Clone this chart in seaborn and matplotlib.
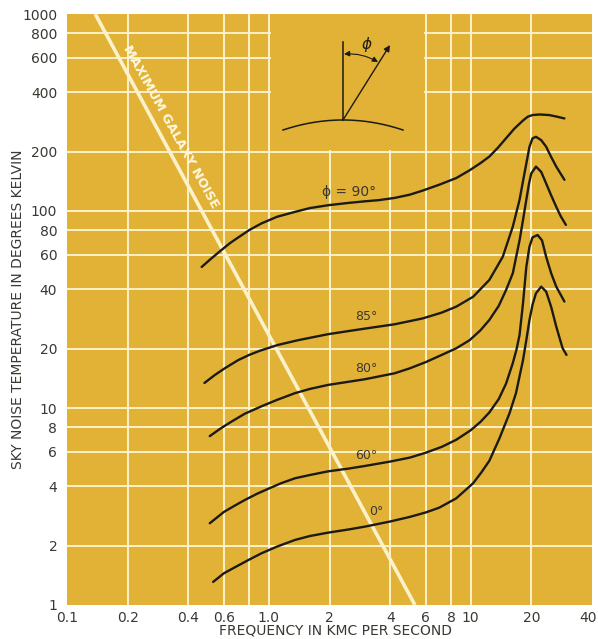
import numpy as np
import pandas as pd
import seaborn as sns
import matplotlib.pyplot as plt
from matplotlib.patches import Rectangle
from matplotlib.ticker import FixedLocator, NullFormatter
from matplotlib.transforms import ScaledTranslation

# sky noise temperature vs frequency, one curve per angle
freq_90 = [0.465, 0.52, 0.583, 0.64, 0.7, 0.8, 0.92, 1.1, 1.35, 1.6, 1.97, 2.5, 3.0, 3.5, 4.2, 5.0, 5.8, 7.0,
           8.5, 9.9, 11.2, 12.4, 13.7, 15.0, 16.5, 18.2, 19.2, 20.3, 22.0, 24.5, 26.5, 29.2]
temp_90 = [52, 57.5, 63.4, 68.5, 73, 80, 86.5, 93.5, 99, 103.5, 107, 110, 112, 113.5, 116.5, 121, 127, 136,
           147, 161, 175, 189, 210, 234, 262, 288, 301, 307, 309, 307, 302, 295]

freq_85 = [0.48, 0.54, 0.605, 0.705, 0.8, 0.9, 1.11, 1.4, 1.97, 2.5, 3.0, 4.2, 5.8, 7.2, 8.5, 10.3, 12.4,
           14.45, 16.2, 17.5, 18.5, 19.6, 20.3, 21.1, 22.4, 23.7, 25.1, 26.6, 29.2]
temp_85 = [13.4, 14.7, 15.9, 17.5, 18.6, 19.5, 20.9, 22.1, 23.7, 24.6, 25.3, 26.6, 28.5, 30.5, 32.7, 36.7, 44.7,
           58.6, 83.3, 114, 155, 212, 234, 238, 229, 212, 188, 168, 144]

freq_80 = [0.51, 0.58, 0.65, 0.76, 0.92, 1.1, 1.35, 1.6, 1.97, 2.5, 3.0, 3.5, 4.2, 5.0, 6.0, 7.2, 8.5, 9.9, 11.2,
           12.4, 13.8, 15.0, 16.2, 17.5, 18.2, 18.9, 19.5, 20.0, 21.1, 22.4, 23.7, 25.1, 26.6, 28.0, 29.7]
temp_80 = [7.2, 7.9, 8.5, 9.35, 10.2, 11.0, 11.9, 12.5, 13.1, 13.6, 14.0, 14.45, 15.0, 15.9, 17.1, 18.6, 20.1, 22.1, 24.8,
           28, 33, 39.7, 48.3, 71, 90, 114, 138, 155, 168, 158, 138, 120, 105, 94, 85]

freq_60 = [0.51, 0.6, 0.68, 0.76, 0.88, 1.0, 1.15, 1.35, 1.6, 1.97, 2.5, 3.0, 3.97, 5.0, 6.0, 7.2, 8.5, 10.0,
           11.2, 12.4, 13.8, 15.0, 16.2, 16.9, 17.5, 18.2, 18.9, 19.6, 20.3, 21.5, 22.6, 23.7, 25.1, 26.6, 29.2]
temp_60 = [2.6, 2.97, 3.2, 3.41, 3.68, 3.9, 4.15, 4.4, 4.57, 4.77, 4.93, 5.08, 5.34, 5.6, 5.93, 6.35, 6.9, 7.7,
           8.5, 9.5, 11.1, 13.3, 16.9, 19.8, 23.5, 34, 52, 66, 73.5, 75.5, 71, 58.6, 48.3, 41.3, 34.7]

freq_0 = [0.53, 0.6, 0.7, 0.8, 0.92, 1.1, 1.35, 1.6, 1.97, 2.5, 3.0, 3.97, 5.0, 6.0, 7.0, 8.5, 10.3, 11.3, 12.4,
          13.9, 15.6, 16.8, 18.2, 18.9, 19.6, 20.3, 21.1, 22.4, 23.7, 25.1, 26.6, 28.6, 29.9]
temp_0 = [1.31, 1.45, 1.58, 1.7, 1.83, 1.98, 2.14, 2.24, 2.33, 2.42, 2.5, 2.65, 2.8, 2.95, 3.12, 3.48, 4.15, 4.7, 5.4,
          7.0, 9.4, 11.9, 17.5, 22.1, 28, 33.5, 38.2, 41.3, 39, 32.6, 25.9, 20.1, 18.6]

galaxy_freq = [0.138, 5.3]
galaxy_temp = [1000, 1]

angle_names = ['90', '85', '80', '60', '0']
angle_labels = ['\u03d5 = 90\u00b0', '85\u00b0', '80\u00b0', '60\u00b0', '0\u00b0']
label_freq = [2.49, 3.05, 3.05, 3.05, 3.43]
label_temp = [125, 29.1, 15.9, 5.77, 2.98]

x_ticks = [0.1, 0.2, 0.4, 0.6, 1.0, 2, 4, 6, 8, 10, 20, 40]
x_ticklabels = ['0.1', '0.2', '0.4', '0.6', '1.0', '2', '4', '6', '8', '10', '20', '40']
x_grid = [0.2, 0.4, 0.6, 0.8, 1, 2, 4, 6, 8, 10, 20]
y_ticks = [1, 2, 4, 6, 8, 10, 20, 40, 60, 80, 100, 200, 400, 600, 800, 1000]
y_ticklabels = [str(v) for v in y_ticks]
y_grid = [2, 4, 6, 8, 10, 20, 40, 60, 80, 100, 200, 400, 600, 800]

BG = '#E2B236'
GRID = '#FBF1CB'
INK = '#1c1a14'
TXT = '#3a3832'

curves = {'90': (freq_90, temp_90), '85': (freq_85, temp_85), '80': (freq_80, temp_80),
          '60': (freq_60, temp_60), '0': (freq_0, temp_0)}
df = pd.concat([pd.DataFrame({'freq': f, 'temp': t, 'angle': a}) for a, (f, t) in curves.items()],
               ignore_index=True)

fig = plt.figure(figsize=(5.98, 6.39), dpi=100)
ax = fig.add_axes([67 / 598, 34 / 639, 525 / 598, 591 / 639])
ax.set_facecolor(BG)

sns.lineplot(data=df, x='freq', y='temp', hue='angle', palette={a: INK for a in angle_names},
             linewidth=1.7, legend=False, ax=ax, zorder=3, solid_joinstyle='round', solid_capstyle='round')
ax.set_xscale('log')
ax.set_yscale('log')
ax.set_xlim(0.1, 40)
ax.set_ylim(1, 1000)

# galaxy noise line
ax.plot(galaxy_freq, galaxy_temp, color=GRID, lw=2.6, zorder=2, solid_capstyle='butt')
ax.text(0.328, 266, 'MAXIMUM GALAXY NOISE', rotation=-61, color='#FFF8E0', fontsize=9.3,
        fontweight='bold', ha='center', va='center', rotation_mode='anchor', zorder=4)

for lab, fx, ty in zip(angle_labels, label_freq, label_temp):
    ax.text(fx, ty, lab, fontsize=10 if lab.startswith('\u03d5') else 9, color=TXT,
            ha='center', va='center', zorder=4)

# ticks and grid
ax.xaxis.set_major_locator(FixedLocator(x_ticks))
ax.set_xticklabels(x_ticklabels)
ax.yaxis.set_major_locator(FixedLocator(y_ticks))
ax.set_yticklabels(y_ticklabels)
ax.xaxis.set_minor_locator(FixedLocator(x_grid))
ax.yaxis.set_minor_locator(FixedLocator(y_grid))
ax.xaxis.set_minor_formatter(NullFormatter())
ax.yaxis.set_minor_formatter(NullFormatter())
ax.xaxis.remove_overlapping_locs = False
ax.yaxis.remove_overlapping_locs = False
ax.set_axisbelow(True)
ax.grid(False, which='major')
ax.grid(True, which='minor', color=GRID, lw=1.4)
ax.tick_params(which='both', length=0, colors=TXT, labelsize=10)
ax.tick_params(axis='x', pad=4)
ax.tick_params(axis='y', pad=7)
for s in ax.spines.values():
    s.set_visible(False)

last = ax.get_xticklabels()[-1]
last.set_ha('right')
last.set_transform(last.get_transform() + ScaledTranslation(5 / 100, 0, fig.dpi_scale_trans))

ax.set_xlabel('FREQUENCY IN KMC PER SECOND', fontsize=10, color=TXT)
ax.set_ylabel('SKY NOISE TEMPERATURE IN DEGREES KELVIN', fontsize=10, color=TXT)
ax.xaxis.set_label_coords(0.512, -0.032)
ax.yaxis.set_label_coords(-0.08, 0.5)

# blank panel behind the inset sketch
ax.add_patch(Rectangle((1.023, 204.7), 6 / 1.023 - 1.023, 900, facecolor=BG, edgecolor='none', zorder=1))

# inset sketch: elevation angle phi above the horizon
ins = fig.add_axes([270 / 598, (639 - 147) / 639, 152 / 598, 133 / 639])
ins.set_xlim(0, 152)
ins.set_ylim(133, 0)
ins.axis('off')
ins.patch.set_alpha(0)
hx = np.linspace(13, 133, 60)
ins.plot(hx, 106 + 0.00278 * (hx - 73) ** 2, color=INK, lw=1.1)
ins.plot([72.7, 72.7], [106, 28], color=INK, lw=1.1)
ins.annotate('', xy=(120, 31), xytext=(73, 106),
             arrowprops=dict(arrowstyle='-|>', color=INK, lw=1.0, mutation_scale=9, shrinkA=0, shrinkB=0))
ins.annotate('', xy=(74, 40), xytext=(108, 48),
             arrowprops=dict(arrowstyle='<|-|>', color=INK, lw=0.8, mutation_scale=8,
                             shrinkA=0, shrinkB=0, connectionstyle='arc3,rad=0.15'))
ins.text(97, 31, '\u03d5', fontsize=11, color=INK, ha='center', va='center', style='italic')

fig.savefig('out.png', dpi=100)
